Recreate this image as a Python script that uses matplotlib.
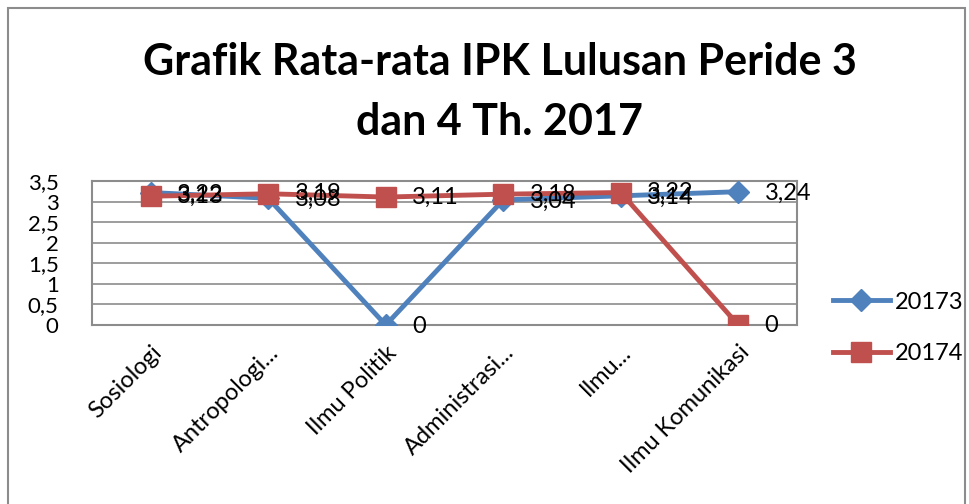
import matplotlib
matplotlib.use("Agg")
import matplotlib.pyplot as plt
from matplotlib.patches import Rectangle
from matplotlib.ticker import FuncFormatter

categories = ["Sosiologi", "Antropologi...", "Ilmu Politik", "Administrasi...", "Ilmu...", "Ilmu Komunikasi"]
s20173 = [3.22, 3.08, 0, 3.04, 3.14, 3.24]
s20174 = [3.13, 3.19, 3.11, 3.18, 3.22, 0]
series_names = ["20173", "20174"]
yticks = [0, 0.5, 1, 1.5, 2, 2.5, 3, 3.5]

plt.rcParams['font.family'] = ['Lato', 'DejaVu Sans']

W, H = 970, 504
fig = plt.figure(figsize=(W/100, H/100), dpi=100)
fig.patches.append(Rectangle((8/W, -0.1), (965-8)/W, (H-8)/H + 0.1, transform=fig.transFigure,
                             fill=False, edgecolor='#8c8c8c', linewidth=1.5))

ax = fig.add_axes([92/W, 1-325/H, (797-92)/W, (325-181)/H])
blue = '#4F81BD'
red = '#C0504D'
x = list(range(len(categories)))
ax.plot(x, s20173, color=blue, lw=3.5, marker='D', markersize=11, label=series_names[0], zorder=3)
ax.plot(x, s20174, color=red, lw=3.5, marker='s', markersize=14, label=series_names[1], zorder=4)

fmt = lambda v: ("%g" % v).replace('.', ',')
for xi, v in zip(x, s20173):
    ax.annotate(fmt(v), (xi, v), xytext=(19, -1), textcoords='offset points',
                fontsize=17, va='center', ha='left', color='black', zorder=5)
for xi, v in zip(x, s20174):
    ax.annotate(fmt(v), (xi, v), xytext=(19, 0), textcoords='offset points',
                fontsize=17, va='center', ha='left', color='black', zorder=5)

ax.set_xlim(-0.5, len(categories) - 0.5)
ax.set_ylim(0, 3.5)
ax.set_yticks(yticks)
ax.yaxis.set_major_formatter(FuncFormatter(lambda v, p: fmt(v)))
ax.grid(axis='y', color='#8c8c8c', lw=1.2)
ax.set_axisbelow(True)
for s in ax.spines.values():
    s.set_color('#8c8c8c')
    s.set_linewidth(1.5)
ax.tick_params(axis='y', length=0, labelsize=16, pad=24)
ax.set_xticks(x)
ax.set_xticklabels(categories, rotation=45, ha='right', rotation_mode='anchor', fontsize=17)
ax.tick_params(axis='x', length=0, pad=12)

fig.text(500/W, 1-62/H, "Grafik Rata-rata IPK Lulusan Peride 3", ha='center', va='center',
         fontsize=31, fontweight='bold')
fig.text(500/W, 1-122/H, "dan 4 Th. 2017", ha='center', va='center',
         fontsize=31, fontweight='bold')

leg = fig.legend(loc='center left', bbox_to_anchor=(833/W, 1-328/H), frameon=False,
                 fontsize=17, handlelength=2.4, labelspacing=1.3, handletextpad=0.2,
                 borderpad=0, borderaxespad=0)

fig.savefig("out.png", dpi=100)
